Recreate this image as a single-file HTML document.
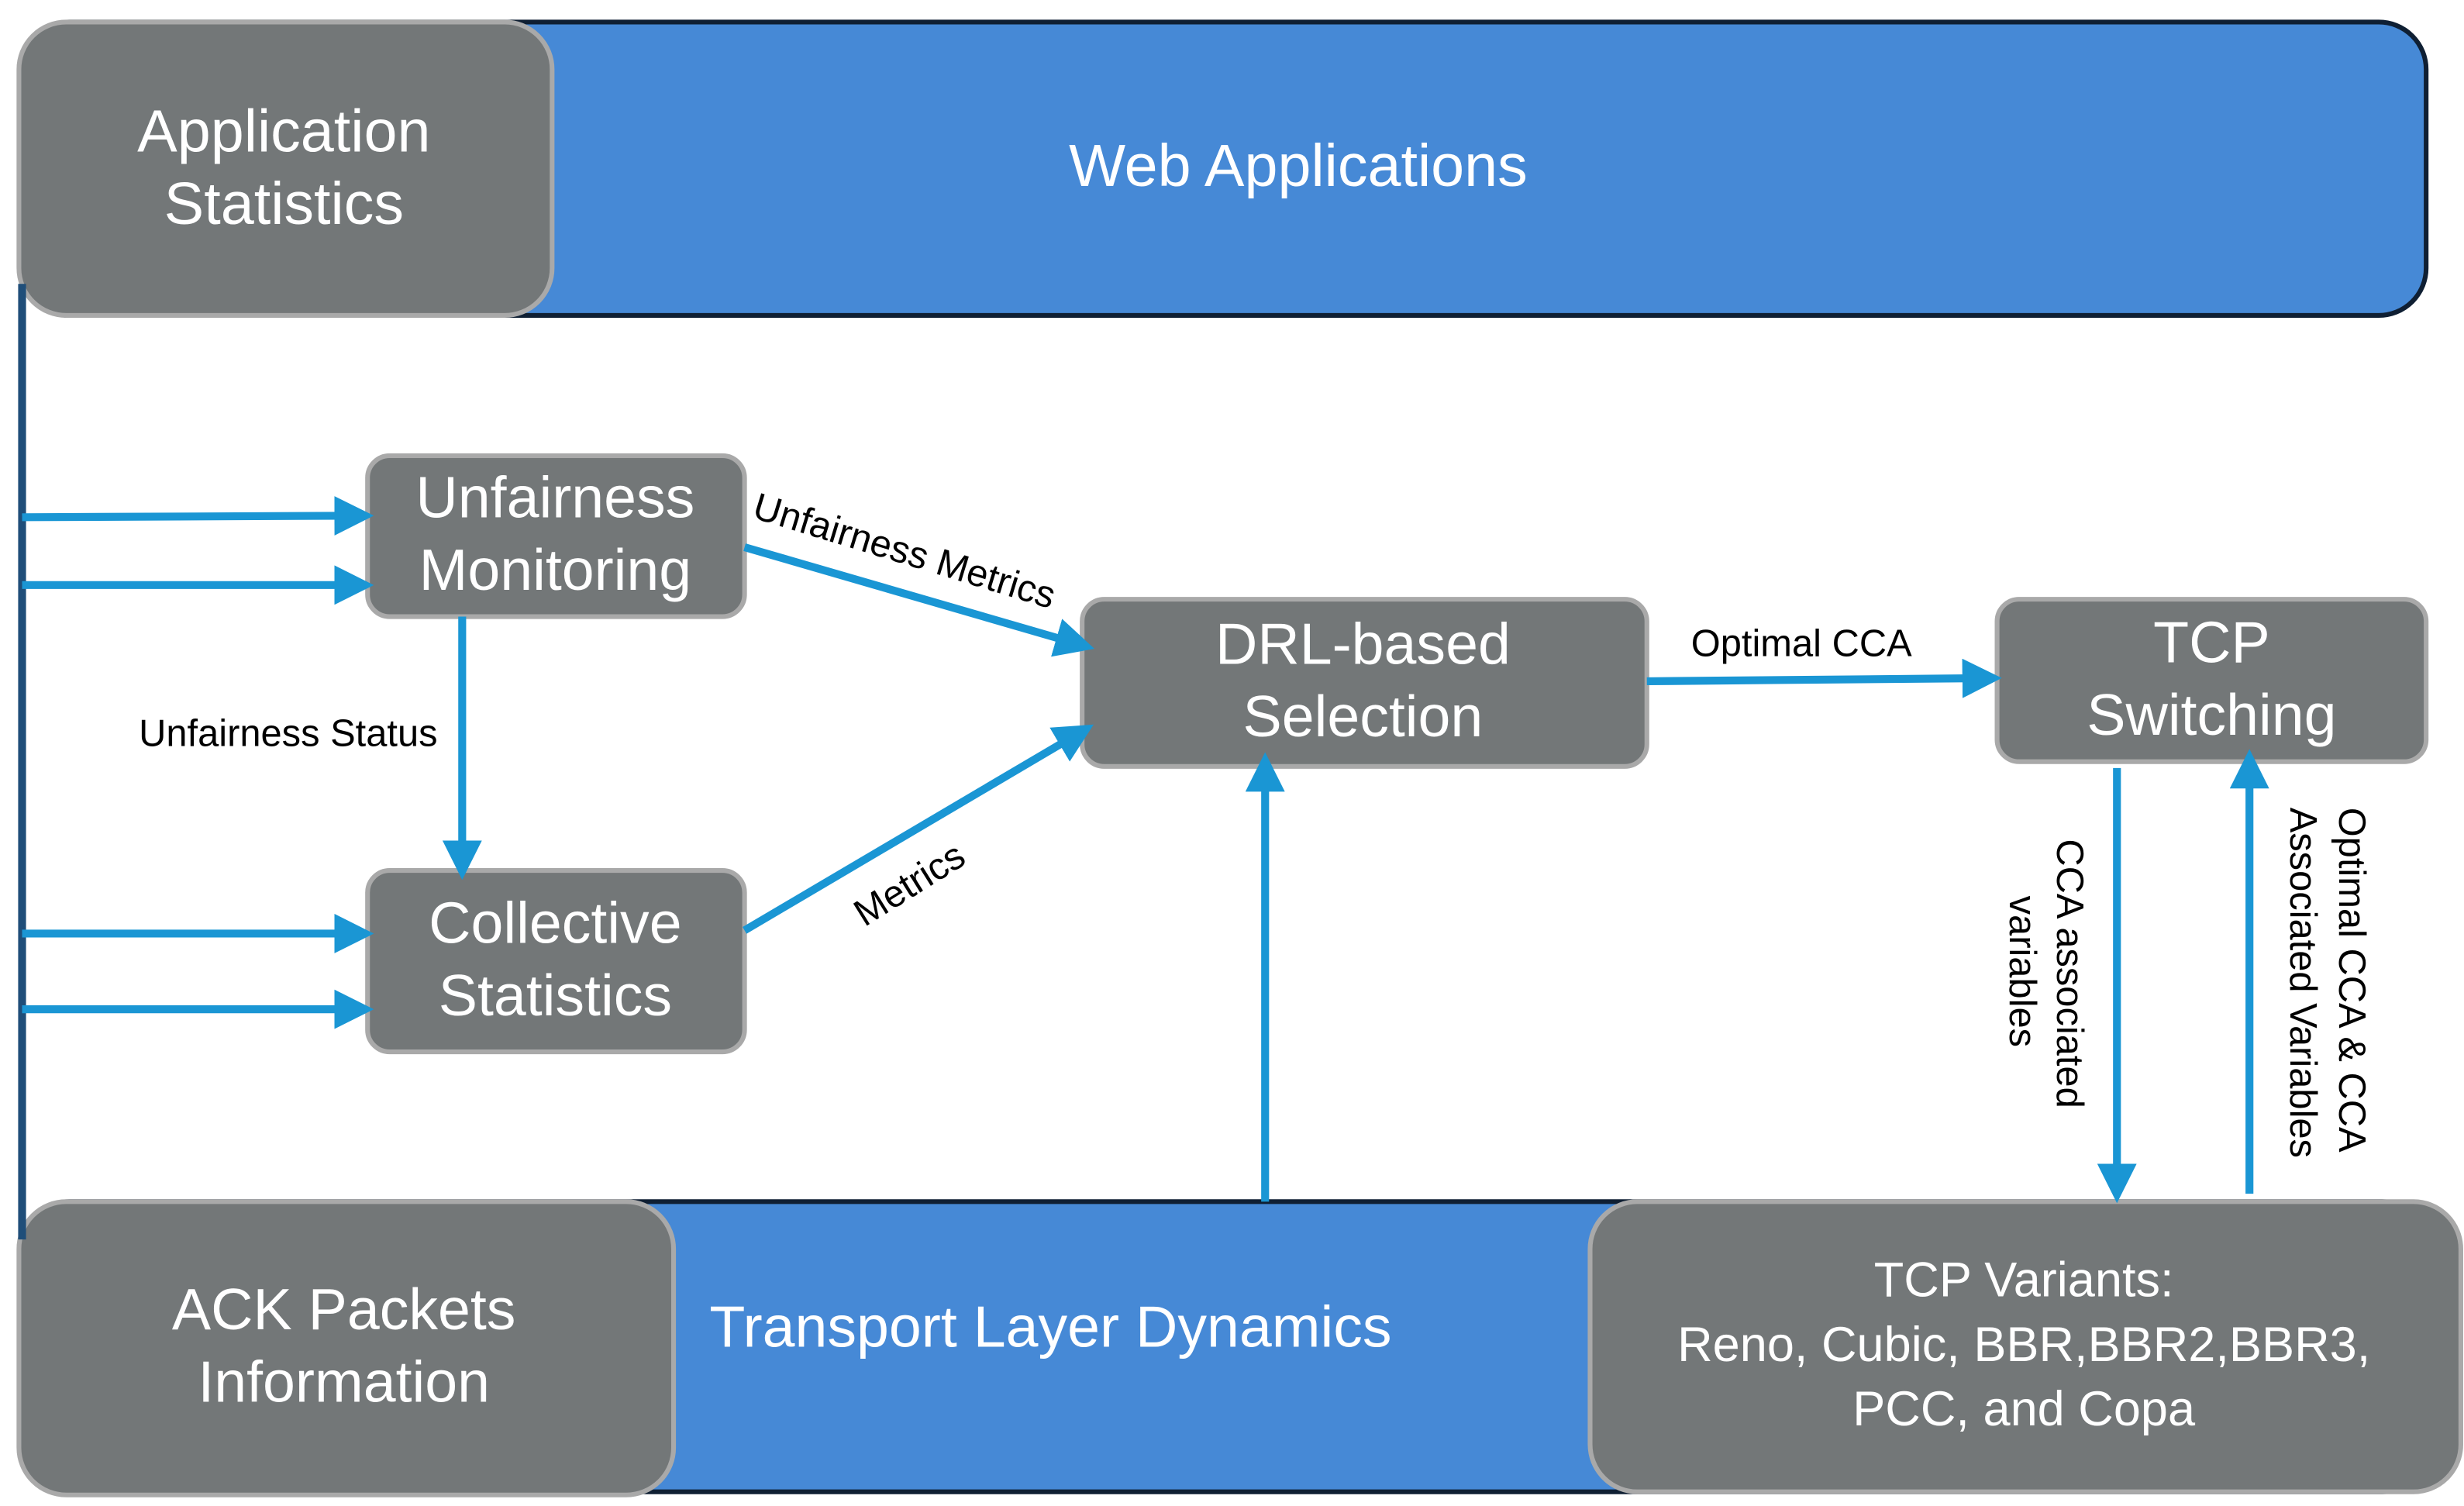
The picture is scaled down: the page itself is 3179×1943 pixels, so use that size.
<!DOCTYPE html>
<html><head><meta charset="utf-8"><style>html,body{margin:0;padding:0;background:#fff}svg{display:block}</style></head>
<body>
<svg width="3179" height="1943" viewBox="0 0 1562 955" preserveAspectRatio="none" xmlns="http://www.w3.org/2000/svg" font-family="Liberation Sans, sans-serif">
<defs>
<marker id="ah" markerWidth="5" markerHeight="5" refX="4" refY="2.5" orient="auto" markerUnits="strokeWidth"><path d="M0,0 L5,2.5 L0,5 z" fill="#1a96d4"/></marker>
</defs>
<rect x="14" y="14" width="1524" height="186" rx="30" fill="#4689d6" stroke="#0f1f33" stroke-width="3"/>
<rect x="12" y="14" width="338" height="186" rx="30" fill="#737778" stroke="#a9a9a9" stroke-width="3"/>
<text x="180" y="96" font-size="38" fill="#fff" text-anchor="middle">Application</text>
<text x="180" y="142" font-size="38" fill="#fff" text-anchor="middle">Statistics</text>
<text x="823" y="118" font-size="38" fill="#fff" text-anchor="middle">Web Applications</text>
<rect x="14" y="762" width="1526" height="184" rx="30" fill="#4689d6" stroke="#0f1f33" stroke-width="3"/>
<rect x="12" y="762" width="415" height="186" rx="30" fill="#737778" stroke="#a9a9a9" stroke-width="3"/>
<rect x="1008" y="762" width="552" height="184" rx="30" fill="#737778" stroke="#a9a9a9" stroke-width="3"/>
<text x="218" y="843" font-size="37" fill="#fff" text-anchor="middle">ACK Packets</text>
<text x="218" y="889" font-size="37" fill="#fff" text-anchor="middle">Information</text>
<text x="666" y="854" font-size="37" fill="#fff" text-anchor="middle">Transport Layer Dynamics</text>
<text x="1283" y="822" font-size="31" fill="#fff" text-anchor="middle">TCP Variants:</text>
<text x="1283" y="863" font-size="31" fill="#fff" text-anchor="middle">Reno, Cubic, BBR,BBR2,BBR3,</text>
<text x="1283" y="904" font-size="31" fill="#fff" text-anchor="middle">PCC, and Copa</text>
<line x1="14" y1="180" x2="14" y2="786" stroke="#1f4e79" stroke-width="5"/>
<rect x="233" y="289" width="239" height="102" rx="14" fill="#737778" stroke="#a9a9a9" stroke-width="3"/>
<text x="352" y="328" font-size="37" fill="#fff" text-anchor="middle">Unfairness</text>
<text x="352" y="374" font-size="37" fill="#fff" text-anchor="middle">Monitoring</text>
<rect x="233" y="552" width="239" height="115" rx="14" fill="#737778" stroke="#a9a9a9" stroke-width="3"/>
<text x="352" y="598" font-size="37" fill="#fff" text-anchor="middle">Collective</text>
<text x="352" y="644" font-size="37" fill="#fff" text-anchor="middle">Statistics</text>
<rect x="686" y="380" width="358" height="106" rx="14" fill="#737778" stroke="#a9a9a9" stroke-width="3"/>
<text x="864" y="421" font-size="37" fill="#fff" text-anchor="middle">DRL-based</text>
<text x="864" y="467" font-size="37" fill="#fff" text-anchor="middle">Selection</text>
<rect x="1266" y="380" width="272" height="103" rx="14" fill="#737778" stroke="#a9a9a9" stroke-width="3"/>
<text x="1402" y="420" font-size="37" fill="#fff" text-anchor="middle">TCP</text>
<text x="1402" y="466" font-size="37" fill="#fff" text-anchor="middle">Switching</text>
<g stroke="#1a96d4" stroke-width="5" fill="none" marker-end="url(#ah)">
<line x1="14" y1="328" x2="232" y2="327"/>
<line x1="14" y1="371" x2="232" y2="371"/>
<line x1="14" y1="592" x2="232" y2="592"/>
<line x1="14" y1="640" x2="232" y2="640"/>
<line x1="293" y1="391" x2="293" y2="553"/>
<line x1="472" y1="347" x2="689" y2="410"/>
<line x1="472" y1="590" x2="689" y2="462"/>
<line x1="1044" y1="432" x2="1264" y2="430"/>
<line x1="802" y1="762" x2="802" y2="482"/>
<line x1="1342" y1="487" x2="1342" y2="758"/>
<line x1="1426" y1="757" x2="1426" y2="480"/>
</g>
<g font-size="24" fill="#000">
<text x="88" y="473">Unfairness Status</text>
<text x="1072" y="416">Optimal CCA</text>
<text transform="translate(476,328) rotate(17)">Unfairness Metrics</text>
<text transform="translate(548,588) rotate(-32)">Metrics</text>
<text transform="translate(1304,532) rotate(90)">CCA associated</text>
<text transform="translate(1274,568) rotate(90)">variables</text>
<text transform="translate(1483,512) rotate(90)">Optimal CCA &amp; CCA</text>
<text transform="translate(1452,512) rotate(90)">Associated Variables</text>
</g>
</svg>
</body></html>
